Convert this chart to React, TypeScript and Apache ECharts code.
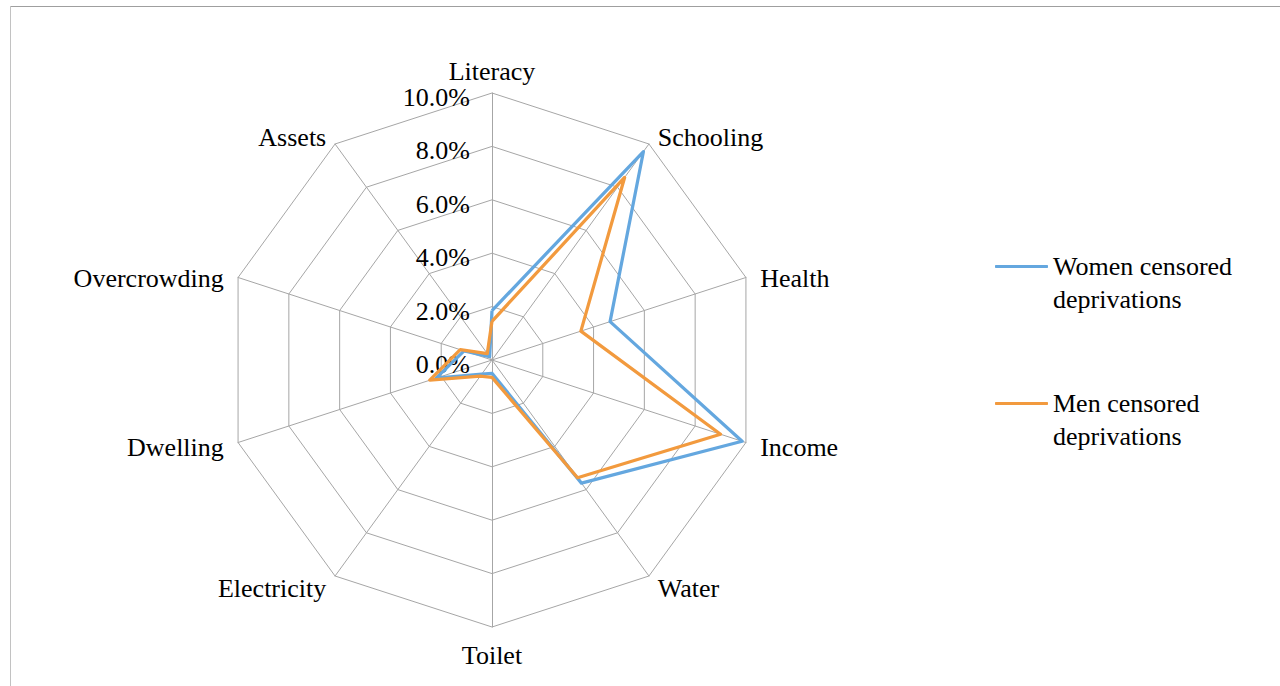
import React, { useEffect, useRef } from "react";
import * as echarts from "echarts";

// Deprivation dimensions, listed clockwise from the top
const categories = [
  "Literacy",
  "Schooling",
  "Health",
  "Income",
  "Water",
  "Toilet",
  "Electricity",
  "Dwelling",
  "Overcrowding",
  "Assets",
];

// Censored deprivation rates (%)
const womenValues = [1.85, 9.65, 4.65, 9.85, 5.7, 0.5, 0.65, 2.2, 1.1, 0.15];
const menValues = [1.45, 8.45, 3.5, 9.0, 5.45, 0.65, 0.75, 2.45, 1.25, 0.3];

const seriesNames = ["Women censored\ndeprivations", "Men censored\ndeprivations"];
const seriesColors = ["#64a7df", "#f29a3e"];

const axisMax = 10;
const axisSplits = 5;

const FONT = "'Liberation Serif', 'Times New Roman', serif";

// Names on the upper half sit a little lower than the default placement
const upperNames = ["Schooling", "Health", "Overcrowding", "Assets"];

// ECharts lays radar indicators out counter-clockwise; reorder so the
// dimensions run clockwise from the top.
const clockwiseOrder = categories.map((_, i) => (i === 0 ? 0 : categories.length - i));

export default function App() {
  const ref = useRef<HTMLDivElement>(null);

  useEffect(() => {
    if (!ref.current) return;
    const chart = echarts.init(ref.current, undefined, { renderer: "svg" });

    const indicator = clockwiseOrder.map((idx, k) => ({
      name: categories[idx],
      min: 0,
      max: axisMax,
      ...(k === 0
        ? {
            axisLabel: {
              show: true,
              color: "#000",
              fontFamily: FONT,
              fontSize: 26,
              margin: 22,
              verticalAlign: "top",
              lineHeight: 9,
              formatter: (v: number) => v.toFixed(1) + "%",
            },
          }
        : {}),
    }));

    const reorder = (arr: number[]) => clockwiseOrder.map((i) => arr[i]);

    const nameStyle = { color: "#000", fontFamily: FONT, fontSize: 26 };

    chart.setOption({
      animation: false,
      backgroundColor: "#fff",
      graphic: [
        {
          type: "line",
          shape: { x1: 10, y1: 6.5, x2: 1280, y2: 6.5 },
          style: { stroke: "#9f9f9f", lineWidth: 1 },
        },
        {
          type: "line",
          shape: { x1: 10.5, y1: 6, x2: 10.5, y2: 686 },
          style: { stroke: "#c2c2c2", lineWidth: 1 },
        },
      ],
      legend: {
        orient: "vertical",
        left: 995,
        top: 217,
        padding: 0,
        icon: "roundRect",
        itemWidth: 53,
        itemHeight: 3,
        itemGap: 38,
        data: seriesNames,
        // a blank first line keeps the name's first line level with the key line
        formatter: (name: string) => " \n" + name,
        textStyle: {
          color: "#000",
          fontFamily: FONT,
          fontSize: 26,
          lineHeight: 33,
        },
      },
      radar: {
        center: [492, 360],
        radius: 267,
        startAngle: 90,
        shape: "polygon",
        splitNumber: axisSplits,
        nameGap: 15,
        indicator,
        axisName: {
          ...nameStyle,
          formatter: (name: string) =>
            name === "Literacy"
              ? `{top|${name}}`
              : upperNames.includes(name)
              ? `{up|${name}}`
              : `{n|${name}}`,
          rich: {
            top: { ...nameStyle, lineHeight: 12 },
            up: { ...nameStyle, padding: [12, 0, 0, 0] },
            n: { ...nameStyle },
          },
        },
        axisLine: { lineStyle: { color: "#a6a6a6", width: 1 } },
        splitLine: { lineStyle: { color: "#a6a6a6", width: 1 } },
        splitArea: { show: false },
        axisTick: { show: false },
        axisLabel: { show: false },
      },
      series: [
        {
          type: "radar",
          symbol: "none",
          data: [
            {
              name: seriesNames[0],
              value: reorder(womenValues),
              lineStyle: { color: seriesColors[0], width: 3.25 },
              itemStyle: { color: seriesColors[0] },
            },
            {
              name: seriesNames[1],
              value: reorder(menValues),
              lineStyle: { color: seriesColors[1], width: 3.25 },
              itemStyle: { color: seriesColors[1] },
            },
          ],
        },
      ],
    });

    return () => chart.dispose();
  }, []);

  return (
    <div
      ref={ref}
      style={{ position: "fixed", left: 0, top: 0, width: 1280, height: 686 }}
    />
  );
}
